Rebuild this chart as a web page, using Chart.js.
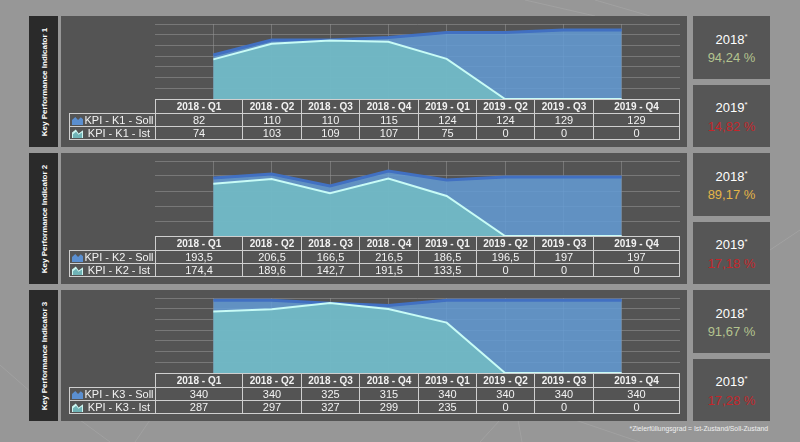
<!DOCTYPE html>
<html>
<head>
<meta charset="utf-8">
<script src="https://cdn.jsdelivr.net/npm/chart.js@4/dist/chart.umd.min.js"></script>
<style>
  html, body { margin: 0; padding: 0; }
  body {
    width: 800px; height: 442px; position: relative; overflow: hidden;
    background: #979797;
    font-family: "Liberation Sans", Arial, sans-serif;
  }
  #bg { position: absolute; left: 0; top: 0; }
  .label { position: absolute; left: 29px; width: 29px; height: 131px; background: #2a2a2a; }
  .label span {
    position: absolute; left: 50%; top: 50%;
    transform: translate(-50%, -50%) rotate(-90deg);
    white-space: nowrap; color: #fff; font-weight: bold; font-size: 8px;
  }
  .panel { position: absolute; left: 61px; width: 626px; height: 131px; background: #545454; }
  .plot { position: absolute; left: 93px; top: 7px; width: 527px; height: 77px; }
  .panel table {
    position: absolute; left: 8px; top: 83px; width: 611px;
    border-collapse: collapse; table-layout: fixed; color: #f2f2f2;
  }
  .panel td { border: 1px solid #cfcfcf; text-align: center; padding: 0; white-space: nowrap; }
  .panel tr.head td { height: 13px; font-weight: bold; font-size: 10px; }
  .panel tr.val td { height: 12px; font-size: 11px; line-height: 12px; }
  .panel tr.head td.blank { border: none; border-bottom: 1px solid #cfcfcf; }
  .legcell { position: relative; }
  .legcell .txt { position: absolute; left: 13px; right: 0; top: 0; text-align: center; }
  .icon { position: absolute; left: 2px; top: 2px; width: 11px; height: 9px; }
  .icon.soll { background: #5b8fd0; clip-path: polygon(0 100%, 0 45%, 30% 10%, 55% 45%, 80% 15%, 100% 35%, 100% 100%); }
  .icon.ist { background: #cdf5f0; clip-path: polygon(0 100%, 0 40%, 35% 5%, 60% 50%, 100% 15%, 100% 100%); }
  .icon.ist::after {
    content: ""; position: absolute; left: 1px; top: 2px; right: 1px; bottom: 0; background: #6fb3b6;
    clip-path: polygon(0 100%, 0 45%, 35% 10%, 60% 55%, 100% 20%, 100% 100%);
  }
  .rate { position: absolute; left: 693px; width: 77px; background: #565656;
    display: flex; flex-direction: column; justify-content: center; align-items: center;
    font-size: 13px; line-height: 18px; color: #fff; }
  #note { position: absolute; right: 32px; top: 425px; font-size: 6.8px; color: #f0f0f0; }
</style>
</head>
<body>
<svg id="bg" width="800" height="442">
  <g stroke="#a8a8a8" stroke-width="1" fill="none" opacity="0.6">
    <line x1="525" y1="0" x2="595" y2="16"/>
    <line x1="595" y1="0" x2="650" y2="16"/>
    <line x1="0" y1="365" x2="40" y2="400"/>
    <line x1="80" y1="420" x2="110" y2="442"/>
    <line x1="150" y1="420" x2="135" y2="442"/>
    <line x1="500" y1="420" x2="480" y2="442"/>
    <line x1="518" y1="420" x2="522" y2="442"/>
    <line x1="575" y1="420" x2="640" y2="442"/>
    <line x1="770" y1="250" x2="800" y2="230"/>
  </g>
</svg>
<div id="note">*Zielerfüllungsgrad = Ist-Zustand/Soll-Zustand</div>
<script>
// categories and values
const categories = ["2018 - Q1", "2018 - Q2", "2018 - Q3", "2018 - Q4", "2019 - Q1", "2019 - Q2", "2019 - Q3", "2019 - Q4"];

const k1Soll = [82, 110, 110, 115, 124, 124, 129, 129];
const k1Ist = [74, 103, 109, 107, 75, 0, 0, 0];

const k2Soll = [193.5, 206.5, 166.5, 216.5, 186.5, 196.5, 197, 197];
const k2Ist = [174.4, 189.6, 142.7, 191.5, 133.5, 0, 0, 0];

const k3Soll = [340, 340, 325, 315, 340, 340, 340, 340];
const k3Ist = [287, 297, 327, 299, 235, 0, 0, 0];

const titles = ["Key Performance Indicator 1", "Key Performance Indicator 2", "Key Performance Indicator 3"];
const sollNames = ["KPI - K1 - Soll", "KPI - K2 - Soll", "KPI - K3 - Soll"];
const istNames = ["KPI - K1 - Ist", "KPI - K2 - Ist", "KPI - K3 - Ist"];
const yMax = [140, 250, 350];
const yStep = [20, 50, 50];

const rate2018 = ["94,24 %", "89,17 %", "91,67 %"];
const rate2018Colour = ["#b4c48f", "#e4b548", "#b4c48f"];
const rate2019 = ["14,82 %", "17,18 %", "17,28 %"];
const rate2019Colour = ["#c3262b", "#c3262b", "#c3262b"];

const panelTops = [16, 153, 290];
const colWidths = [86, 87, 59, 58, 59, 58, 58, 59, 86];

function fmt(v) {
  return String(v).replace(".", ",");
}

function buildTable(panel, i, soll, ist) {
  const table = document.createElement("table");
  const cols = document.createElement("colgroup");
  colWidths.forEach((w) => {
    const c = document.createElement("col");
    c.style.width = w + "px";
    cols.appendChild(c);
  });
  table.appendChild(cols);

  let html = '<tr class="head"><td class="blank"></td>';
  categories.forEach((c) => { html += "<td>" + c + "</td>"; });
  html += "</tr>";

  html += '<tr class="val"><td class="legcell"><div class="icon soll"></div><div class="txt">' + sollNames[i] + "</div></td>";
  soll.forEach((v) => { html += "<td>" + fmt(v) + "</td>"; });
  html += "</tr>";

  html += '<tr class="val"><td class="legcell"><div class="icon ist"></div><div class="txt">' + istNames[i] + "</div></td>";
  ist.forEach((v) => { html += "<td>" + fmt(v) + "</td>"; });
  html += "</tr>";

  table.insertAdjacentHTML("beforeend", html);
  panel.appendChild(table);
}

function buildChart(canvas, i, soll, ist) {
  const toPoints = (arr) => arr.map((v, idx) => ({ x: idx, y: v }));

  return new Chart(canvas, {
    type: "line",
    data: {
      datasets: [
        {
          label: istNames[i],
          data: toPoints(ist),
          order: 0,
          fill: "origin",
          backgroundColor: "rgba(114, 186, 196, 0.93)",
          borderColor: "#c8fbf6",
          borderWidth: 2,
          pointRadius: 0,
          tension: 0,
        },
        {
          label: sollNames[i],
          data: toPoints(soll),
          order: 1,
          fill: "origin",
          backgroundColor: "rgba(100, 156, 214, 0.85)",
          borderColor: "#4170c2",
          borderWidth: 3,
          pointRadius: 0,
          tension: 0,
        },
      ],
    },
    options: {
      responsive: true,
      maintainAspectRatio: false,
      animation: false,
      layout: { padding: 1 },
      plugins: { legend: { display: false }, tooltip: { enabled: false } },
      scales: {
        x: {
          type: "linear",
          min: -1,
          max: categories.length,
          ticks: { display: false, stepSize: 1 },
          grid: {
            drawTicks: false,
            color: (ctx) =>
              ctx.tick && ctx.tick.value >= 0 && ctx.tick.value < categories.length
                ? "rgba(160, 160, 160, 0.45)"
                : "rgba(0, 0, 0, 0)",
          },
          border: { display: false },
        },
        y: {
          min: 0,
          max: yMax[i],
          ticks: { display: false, stepSize: yStep[i] },
          grid: { drawTicks: false, color: "rgba(150, 150, 150, 0.55)" },
          border: { display: false },
        },
      },
    },
  });
}

const sollSeries = [k1Soll, k2Soll, k3Soll];
const istSeries = [k1Ist, k2Ist, k3Ist];

panelTops.forEach((top, i) => {
  const label = document.createElement("div");
  label.className = "label";
  label.style.top = top + "px";
  label.innerHTML = "<span>" + titles[i] + "</span>";
  document.body.appendChild(label);

  const panel = document.createElement("div");
  panel.className = "panel";
  panel.style.top = top + "px";
  const plot = document.createElement("div");
  plot.className = "plot";
  const canvas = document.createElement("canvas");
  plot.appendChild(canvas);
  panel.appendChild(plot);
  document.body.appendChild(panel);

  buildTable(panel, i, sollSeries[i], istSeries[i]);
  buildChart(canvas, i, sollSeries[i], istSeries[i]);

  const r1 = document.createElement("div");
  r1.className = "rate";
  r1.style.top = top + "px";
  r1.style.height = "63px";
  r1.innerHTML = '<div>2018<sup style="font-size:8px">*</sup></div><div style="color:' + rate2018Colour[i] + '">' + rate2018[i] + "</div>";
  document.body.appendChild(r1);

  const r2 = document.createElement("div");
  r2.className = "rate";
  r2.style.top = top + 69 + "px";
  r2.style.height = "62px";
  r2.innerHTML = '<div>2019<sup style="font-size:8px">*</sup></div><div style="color:' + rate2019Colour[i] + '">' + rate2019[i] + "</div>";
  document.body.appendChild(r2);
});
</script>
</body>
</html>
